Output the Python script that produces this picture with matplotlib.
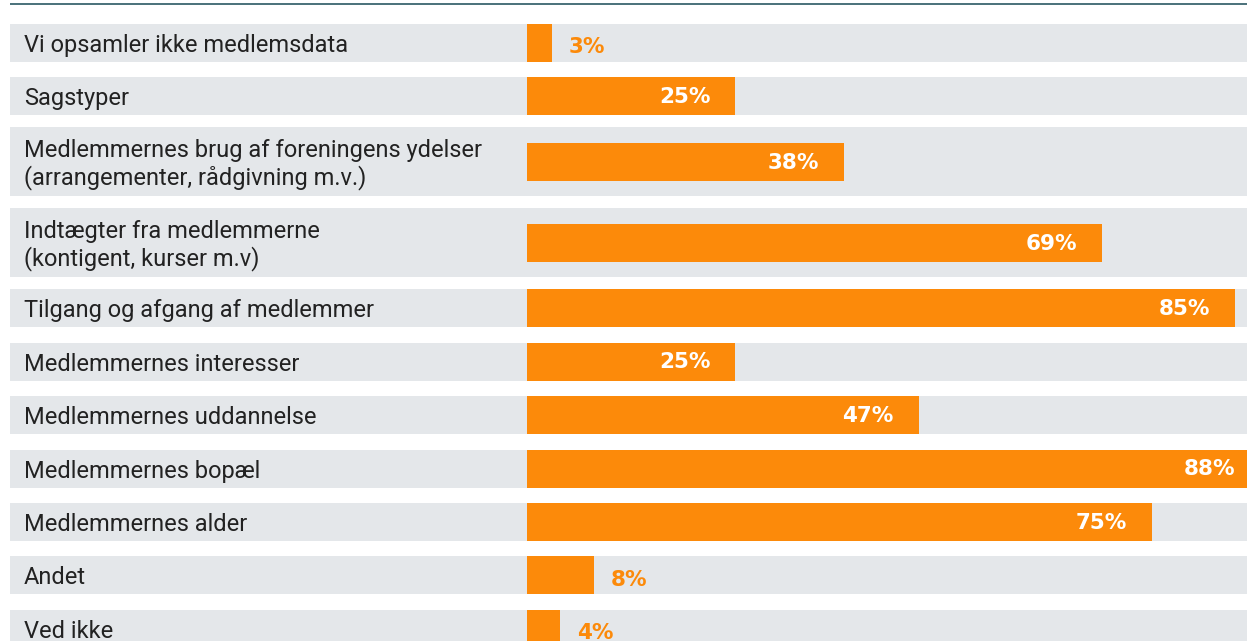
import matplotlib
matplotlib.use("Agg")
import matplotlib.pyplot as plt
from matplotlib.patches import Rectangle

# ---- data ----
categories = [
    "Vi opsamler ikke medlemsdata",
    "Sagstyper",
    "Medlemmernes brug af foreningens ydelser\n(arrangementer, rådgivning m.v.)",
    "Indtægter fra medlemmerne\n(kontigent, kurser m.v)",
    "Tilgang og afgang af medlemmer",
    "Medlemmernes interesser",
    "Medlemmernes uddannelse",
    "Medlemmernes bopæl",
    "Medlemmernes alder",
    "Andet",
    "Ved ikke",
]
values = [3, 25, 38, 69, 85, 25, 47, 88, 75, 8, 4]
value_labels = [f"{v}%" for v in values]

# ---- style / layout ----
W, H, DPI = 1247, 641, 100
ORANGE = "#FC8A0A"
BG = "#E4E7EA"
LINE = "#3b6670"
TEXT = "#222222"

bar_x0_px = 527          # pixel where 0% sits
px_per_pct = 8.33        # pixel per percent
row_left_px = 10
label_x_px = 24
single_h, double_h = 38, 69
gap_single, gap_double = 15.4, 12
top_start = 24

# row geometry (layout, derived from number of label lines)
heights = [double_h if "\n" in c else single_h for c in categories]
tops = []
y = top_start
for i, h in enumerate(heights):
    if i > 0:
        g = gap_double if (heights[i] == double_h or heights[i - 1] == double_h) else gap_single
        y += g
    tops.append(y)
    y += h
centers = [t + h / 2 for t, h in zip(tops, heights)]

fig = plt.figure(figsize=(W / DPI, H / DPI), dpi=DPI)
ax = fig.add_axes([0, 0, 1, 1])
ax.set_xlim(-bar_x0_px / px_per_pct, (W - bar_x0_px) / px_per_pct)
ax.set_ylim(H, 0)
ax.axis("off")

ytr = ax.get_yaxis_transform()  # x in axes fraction, y in data

# top rule
ax.plot([row_left_px / W, 1], [3.7, 3.7], transform=ytr, color=LINE, lw=1.3,
        solid_capstyle="butt")

# row backgrounds
for t, h in zip(tops, heights):
    ax.add_patch(Rectangle((row_left_px / W, t), 1 - row_left_px / W, h,
                           transform=ytr, facecolor=BG, edgecolor="none", zorder=0))

# bars
ax.barh(centers, values, height=single_h, left=0, color=ORANGE, zorder=2)

# category labels
for c, yc in zip(categories, centers):
    ax.text(label_x_px / W, yc + 2.5, c, transform=ytr, ha="left", va="center",
            fontsize=17, family="Roboto", color=TEXT, linespacing=1.12, zorder=3)

# value labels
for v, lab, yc in zip(values, value_labels, centers):
    if v >= 10:
        ax.annotate(lab, (v, yc), xytext=(-18, -0.5), textcoords="offset points",
                    ha="right", va="center", fontsize=15.5, fontweight="bold",
                    family="DejaVu Sans", color="white", zorder=4,
                    annotation_clip=False)
    else:
        ax.annotate(lab, (v, yc), xytext=(12, -3), textcoords="offset points",
                    ha="left", va="center", fontsize=15.5, fontweight="bold",
                    family="DejaVu Sans", color=ORANGE, zorder=4,
                    annotation_clip=False)

fig.savefig("out.png", dpi=DPI)
